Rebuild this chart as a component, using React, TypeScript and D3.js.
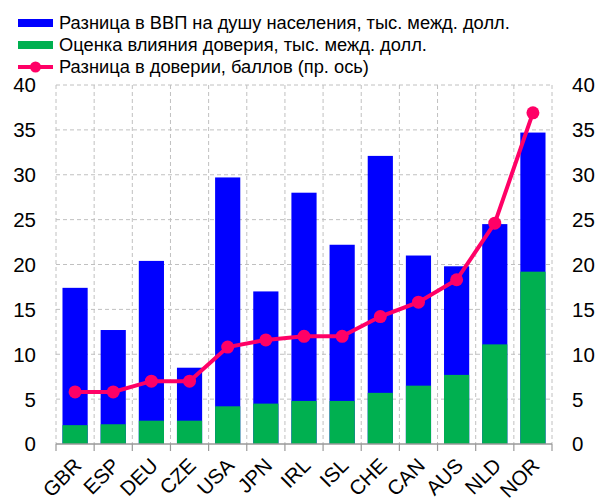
import * as d3 from "d3";

const categories = ["GBR", "ESP", "DEU", "CZE", "USA", "JPN", "IRL", "ISL", "CHE", "CAN", "AUS", "NLD", "NOR"];
const gdpGap = [17.4, 12.7, 20.4, 8.5, 29.7, 17.0, 28.0, 22.2, 32.1, 21.0, 19.8, 24.5, 34.7];
const trustEffect = [2.1, 2.2, 2.6, 2.6, 4.2, 4.5, 4.8, 4.8, 5.7, 6.5, 7.7, 11.1, 19.2];
const trustGap = [5.8, 5.8, 7.0, 7.0, 10.8, 11.6, 12.0, 12.0, 14.2, 15.8, 18.3, 24.6, 36.9];
const yTicks = [0, 5, 10, 15, 20, 25, 30, 35, 40];
const legendLabels = [
  "Разница в ВВП на душу населения, тыс. межд. долл.",
  "Оценка влияния доверия, тыс. межд. долл.",
  "Разница в доверии, баллов (пр. ось)",
];

const BLUE = "#0000ff";
const GREEN = "#00b050";
const PINK = "#ff0066";
const FONT = "'Liberation Sans', Arial, sans-serif";

export default function App() {
  const width = 600;
  const height = 504;
  const plot = { left: 56, right: 552, top: 85, bottom: 444 };

  const x = d3
    .scaleBand<string>()
    .domain(categories)
    .range([plot.left, plot.right])
    .paddingInner(0.34)
    .paddingOuter(0.17);
  const bounds = d3
    .scaleLinear()
    .domain([0, categories.length])
    .range([plot.left, plot.right]);
  const y = d3.scaleLinear().domain([0, 40]).range([plot.bottom, plot.top]);
  const yRight = d3.scaleLinear().domain([0, 40]).range([plot.bottom, plot.top]);

  const center = (c: string) => (x(c) ?? 0) + x.bandwidth() / 2;
  const line = d3
    .line<number>()
    .x((_, i) => center(categories[i]))
    .y((d) => yRight(d));

  return (
    <svg
      width={width}
      height={height}
      style={{ position: "absolute", left: 0, top: 0 }}
      fontFamily={FONT}
    >
      <rect width={width} height={height} fill="#fff" />

      {/* grid */}
      {yTicks.slice(1).map((t) => (
        <line key={"h" + t} x1={plot.left} x2={plot.right} y1={y(t)} y2={y(t)} stroke="#c0c0c0" strokeDasharray="4,3" />
      ))}
      {d3.range(categories.length + 1).map((i) => (
        <line key={"v" + i} x1={bounds(i)} x2={bounds(i)} y1={plot.top} y2={plot.bottom} stroke="#c0c0c0" strokeDasharray="4,3" />
      ))}

      {/* bars */}
      {categories.map((c, i) => (
        <g key={c}>
          <rect x={x(c)} y={y(gdpGap[i])} width={x.bandwidth()} height={plot.bottom - y(gdpGap[i])} fill={BLUE} />
          <rect x={x(c)} y={y(trustEffect[i])} width={x.bandwidth()} height={plot.bottom - y(trustEffect[i])} fill={GREEN} />
        </g>
      ))}

      {/* x axis */}
      <line x1={plot.left} x2={plot.right} y1={plot.bottom} y2={plot.bottom} stroke="#999" strokeWidth={1.5} />
      {d3.range(categories.length + 1).map((i) => (
        <line key={"t" + i} x1={bounds(i)} x2={bounds(i)} y1={plot.bottom} y2={plot.bottom + 7} stroke="#999" strokeWidth={1.2} />
      ))}
      {categories.map((c) => (
        <text
          key={"l" + c}
          transform={`translate(${center(c) - 3},${plot.bottom + 12}) rotate(-45)`}
          textAnchor="end"
          dominantBaseline="hanging"
          fontSize={20.5}
          fill="#000"
        >
          {c}
        </text>
      ))}

      {/* y labels */}
      {yTicks.map((t) => (
        <text key={"yl" + t} x={36} y={y(t)} dy="0.36em" textAnchor="end" fontSize={20.5} fill="#000">
          {t}
        </text>
      ))}
      {yTicks.map((t) => (
        <text key={"yr" + t} x={572} y={yRight(t)} dy="0.36em" textAnchor="start" fontSize={20.5} fill="#000">
          {t}
        </text>
      ))}

      {/* line */}
      <path d={line(trustGap) ?? ""} fill="none" stroke={PINK} strokeWidth={4} />
      {trustGap.map((v, i) => (
        <circle key={"p" + i} cx={center(categories[i])} cy={yRight(v)} r={6.5} fill={PINK} />
      ))}

      {/* legend */}
      <g fontSize={18.3} fill="#000">
        <rect x={18} y={19} width={35} height={8} fill={BLUE} />
        <text x={59} y={23} dy="0.35em">{legendLabels[0]}</text>
        <rect x={18} y={41} width={35} height={8} fill={GREEN} />
        <text x={59} y={45} dy="0.35em">{legendLabels[1]}</text>
        <line x1={18} x2={53} y1={67} y2={67} stroke={PINK} strokeWidth={4} />
        <circle cx={35.5} cy={67} r={5.5} fill={PINK} />
        <text x={59} y={67} dy="0.35em">{legendLabels[2]}</text>
      </g>
    </svg>
  );
}
